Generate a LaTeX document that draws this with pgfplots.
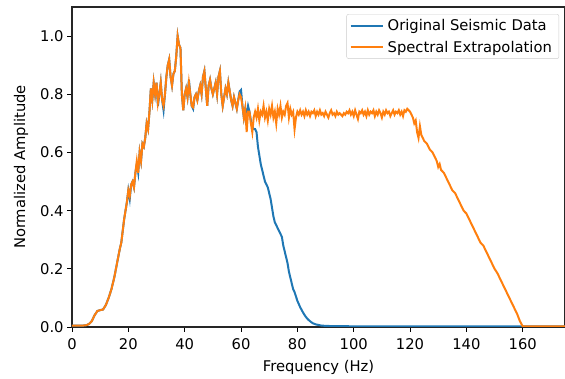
\documentclass[border=0pt]{standalone}
\usepackage{pgfplots}
\usepackage{pgfplotstable}
\pgfplotsset{compat=1.18}
\usepackage{fontspec}
\setmainfont{DejaVu Sans}
\definecolor{tabblue}{HTML}{1F77B4}
\definecolor{taborange}{HTML}{FF7F0E}
\pgfplotstableread{
x orig spec
0 0.005 0.005
2 0.005 0.005
4 0.005 0.005
5 0.006 0.006
6 0.010 0.010
7 0.020 0.020
8 0.040 0.040
9 0.055 0.055
10 0.058 0.058
11 0.060 0.060
12 0.075 0.075
13 0.100 0.100
14 0.130 0.130
15 0.170 0.170
16 0.220 0.220
17 0.270 0.270
17.5 0.290 0.290
18 0.330 0.330
18.5 0.370 0.370
19 0.400 0.400
19.5 0.430 0.430
20 0.470 0.470
20.5 0.440 0.450
21 0.490 0.490
21.5 0.500 0.500
22 0.480 0.480
22.5 0.530 0.530
23 0.560 0.570
23.5 0.530 0.530
24 0.600 0.600
24.5 0.570 0.570
25 0.630 0.630
25.5 0.620 0.620
26 0.650 0.650
26.5 0.700 0.700
27 0.680 0.680
27.5 0.740 0.740
28 0.820 0.820
28.5 0.780 0.780
29 0.840 0.840
29.5 0.800 0.800
30 0.840 0.840
30.5 0.760 0.770
31 0.800 0.800
31.5 0.840 0.840
32 0.780 0.780
32.5 0.745 0.760
33 0.800 0.800
33.5 0.860 0.860
34 0.900 0.900
34.5 0.920 0.920
35 0.860 0.860
35.5 0.830 0.830
36 0.870 0.870
36.5 0.880 0.880
37 0.930 0.930
37.5 1.000 1.000
38 0.970 0.970
38.5 0.960 0.960
39 0.800 0.800
39.5 0.745 0.745
40 0.800 0.800
40.5 0.820 0.820
41 0.790 0.790
41.5 0.850 0.840
42 0.800 0.800
42.5 0.760 0.760
43 0.750 0.755
43.5 0.790 0.790
44 0.800 0.800
44.5 0.780 0.780
45 0.810 0.810
45.5 0.830 0.830
46 0.800 0.800
46.5 0.860 0.860
47 0.880 0.880
47.5 0.820 0.820
48 0.760 0.760
48.5 0.830 0.830
49 0.850 0.850
49.5 0.820 0.820
50 0.800 0.800
50.5 0.820 0.820
51 0.840 0.840
51.5 0.800 0.800
52 0.860 0.860
52.5 0.880 0.880
53 0.800 0.800
53.5 0.760 0.760
54 0.790 0.790
54.5 0.820 0.820
55 0.800 0.800
55.5 0.840 0.840
56 0.810 0.810
56.5 0.780 0.780
57 0.760 0.760
57.5 0.790 0.790
58 0.770 0.770
58.5 0.750 0.750
59 0.780 0.780
59.5 0.810 0.800
60 0.815 0.790
60.5 0.760 0.760
61 0.720 0.720
61.5 0.750 0.750
62 0.730 0.670
62.5 0.760 0.740
63 0.740 0.740
63.5 0.710 0.700
64 0.690 0.670
64.5 0.680 0.720
65 0.680 0.740
65.5 0.670 0.720
66 0.620 0.750
66.5 0.590 0.710
67 0.560 0.740
67.5 0.540 0.730
68 0.520 0.760
68.5 0.500 0.720
69 0.490 0.740
69.5 0.480 0.710
70 0.460 0.750
70.5 0.440 0.730
71 0.410 0.760
71.5 0.380 0.720
72 0.360 0.740
72.5 0.350 0.700
73 0.340 0.750
73.5 0.330 0.730
74 0.320 0.760
74.5 0.310 0.720
75 0.280 0.740
75.5 0.260 0.730
76 0.240 0.760
76.5 0.220 0.770
77 0.190 0.720
77.5 0.170 0.750
78 0.150 0.730
78.5 0.130 0.740
79 0.120 0.680
79.5 0.105 0.720
80 0.090 0.740
80.5 0.079 0.730
81 0.068 0.745
81.5 0.059 0.730
82 0.050 0.740
82.5 0.042 0.725
83 0.035 0.745
83.5 0.029 0.730
84 0.024 0.740
84.5 0.020 0.725
85 0.016 0.740
85.5 0.013 0.735
86 0.011 0.745
86.5 0.009 0.725
87 0.008 0.740
87.5 0.007 0.730
88 0.006 0.745
88.5 0.005 0.730
89 0.005 0.735
89.5 0.004 0.725
90 0.004 0.740
90.5 0.004 0.730
91 0.004 0.720
91.5 0.003 0.735
92 0.003 0.745
92.5 0.003 0.730
93 0.003 0.735
93.5 0.003 0.725
94 0.003 0.740
94.5 0.003 0.730
95 0.003 0.735
95.5 0.003 0.730
96 0.003 0.725
96.5 0.003 0.735
97 0.003 0.730
97.5 0.003 0.740
98 0.003 0.735
98.5 0.002 0.745
99 0.002 0.730
99.5 0.002 0.740
100 0.002 0.725
100.5 0.002 0.745
101 0.002 0.730
101.5 0.002 0.715
102 0.002 0.740
102.5 0.002 0.735
103 0.002 0.745
103.5 0.002 0.730
104 0.002 0.740
104.5 0.002 0.725
105 0.002 0.745
105.5 0.002 0.730
106 0.002 0.740
106.5 0.002 0.735
107 0.002 0.745
107.5 0.002 0.725
108 0.002 0.740
108.5 0.002 0.730
109 0.002 0.745
109.5 0.002 0.735
110 0.002 0.720
110.5 0.002 0.740
111 0.002 0.730
111.5 0.002 0.745
112 0.002 0.735
112.5 0.002 0.740
113 0.002 0.725
113.5 0.002 0.735
114 0.002 0.745
114.5 0.002 0.730
115 0.002 0.740
115.5 0.002 0.735
116 0.002 0.745
116.5 0.002 0.730
117 0.002 0.740
117.5 0.002 0.725
118 0.002 0.745
118.5 0.002 0.740
119 0.002 0.750
119.5 0.002 0.745
120 0.002 0.740
120.5 0.002 0.730
121 0.002 0.720
121.5 0.002 0.700
122 0.002 0.710
122.5 0.002 0.670
123 0.002 0.650
123.5 0.002 0.690
124 0.002 0.660
124.5 0.002 0.650
125 0.002 0.640
126 0.002 0.630
127 0.002 0.610
128 0.002 0.600
129 0.002 0.580
129.5 0.002 0.570
130 0.002 0.550
130.5 0.002 0.560
131 0.002 0.540
132 0.002 0.530
133 0.002 0.510
134 0.002 0.490
135 0.002 0.470
136 0.002 0.460
137 0.002 0.440
138 0.002 0.420
139 0.002 0.400
140 0.002 0.390
141 0.002 0.370
142 0.002 0.350
143 0.002 0.330
144 0.002 0.310
145 0.002 0.290
146 0.002 0.280
147 0.002 0.260
148 0.002 0.240
149 0.002 0.220
150 0.002 0.200
151 0.002 0.185
152 0.002 0.165
153 0.002 0.145
154 0.002 0.125
155 0.002 0.105
156 0.002 0.085
157 0.002 0.065
158 0.002 0.045
159 0.002 0.020
160 0.002 0.002
175 0.002 0.002
}\datatable
\begin{document}
\begin{tikzpicture}[font=\fontsize{14.8}{17}\selectfont]
\begin{axis}[
  scale only axis,
  width=493bp, height=320bp,
  xmin=0, xmax=175, ymin=0, ymax=1.1,
  xtick={0,20,40,60,80,100,120,140,160},
  ytick={0,0.2,0.4,0.6,0.8,1.0},
  yticklabel style={/pgf/number format/.cd,fixed,fixed zerofill,precision=1},
  xticklabel style={yshift=-3bp},
  /pgf/number format/assume math mode=true,
  tick pos=left, tick align=outside,
  major tick length=4.9bp,
  every tick/.style={black, line width=0.8bp},
  axis line style={line width=1.1bp, black!85},
  xlabel={Frequency (Hz)}, ylabel={Normalized Amplitude},
  xlabel style={yshift=-4bp},
  ylabel style={yshift=5bp},
  legend style={at={(rel axis cs:0.988,0.978)}, anchor=north east,
    draw=black!20, rounded corners=2bp, fill=white, fill opacity=0.8, text opacity=1,
    font=\fontsize{14.8}{17}\selectfont, row sep=5bp, inner sep=3bp,
    nodes={inner xsep=4bp}},
  legend cell align=left,
  legend image code/.code={\draw[#1, line width=2bp] (0bp,0bp) -- (32bp,0bp);},
]
\addplot[tabblue, line width=2bp] table[x=x, y=orig] {\datatable};
\addlegendentry{Original Seismic Data}
\addplot[taborange, line width=2bp] table[x=x, y=spec] {\datatable};
\addlegendentry{Spectral Extrapolation}
\end{axis}
\pgfresetboundingbox
\path (current axis.south west) ++(-72bp,-52bp) rectangle ++(565bp,379bp);
\end{tikzpicture}
\end{document}
